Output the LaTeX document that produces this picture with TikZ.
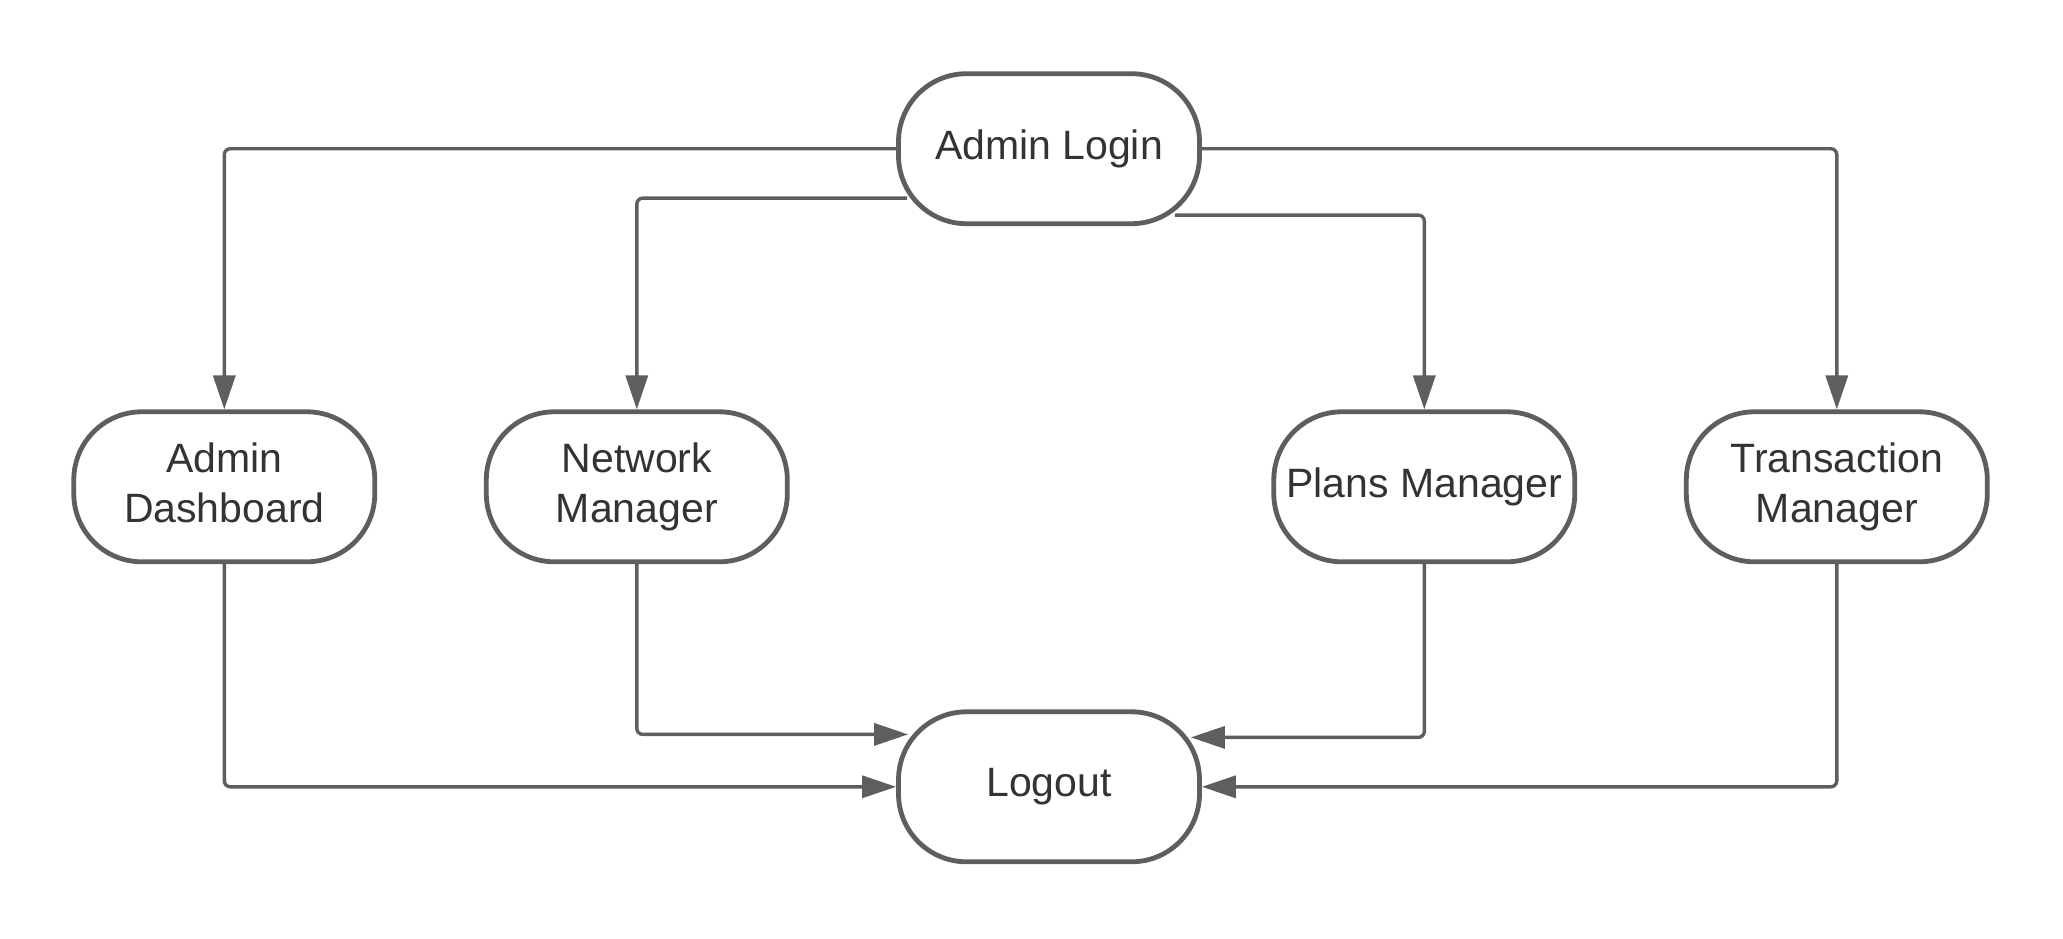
\documentclass[tikz,border=0pt]{standalone}
\usepackage{fontspec}
\setmainfont{Liberation Sans}
\usepackage{tikz}
\usetikzlibrary{arrows.meta,calc}
\definecolor{flow_gray}{RGB}{94, 94, 94}
\definecolor{text_gray}{RGB}{51, 51, 51}
\tikzstyle{term}=[rectangle,rounded corners=34pt,fill=white,draw=flow_gray,
  line width=2.4pt,inner sep=3pt,minimum width=150.5pt,minimum height=75pt,
  align=center,text=text_gray,font=\fontsize{20.5}{25}\selectfont]
\tikzstyle{flow}=[draw=flow_gray,line width=1.7pt,rounded corners=3pt,
  -{Triangle[length=17pt,width=11pt]}]
\tikzstyle{none}=[]

\begin{document}
\begin{tikzpicture}[x=0.5pt,y=-0.5pt]
		\useasboundingbox (0,0) rectangle (2063,938);
		\node [style=term] (0) at (1049, 148.7) {Admin Login};
		\node [style=term] (1) at (224.3, 486.8) {Admin\\Dashboard\vphantom{g}};
		\node [style=term] (2) at (636.8, 486.8) {Network\\Manager};
		\node [style=term] (3) at (1424.3, 486.8) {Plans Manager};
		\node [style=term] (4) at (1836.8, 486.8) {Transaction\\Manager};
		\node [style=term] (5) at (1049, 786.8) {Logout};
		\draw [style=flow] (0.west) -| (1.north);
		\draw [style=flow] (0.east) -| (4.north);
		\draw [style=flow] ($(0.south west)+(11,-28)$) -| (2.north);
		\draw [style=flow] ($(0.south east)+(-27,-11)$) -| (3.north);
		\draw [style=flow] (1.south) |- (5.west);
		\draw [style=flow] (4.south) |- (5.east);
		\draw [style=flow] (2.south) |- ($(5.north west)+(12,25)$);
		\draw [style=flow] (3.south) |- ($(5.north east)+(-11,28)$);
\end{tikzpicture}
\end{document}
